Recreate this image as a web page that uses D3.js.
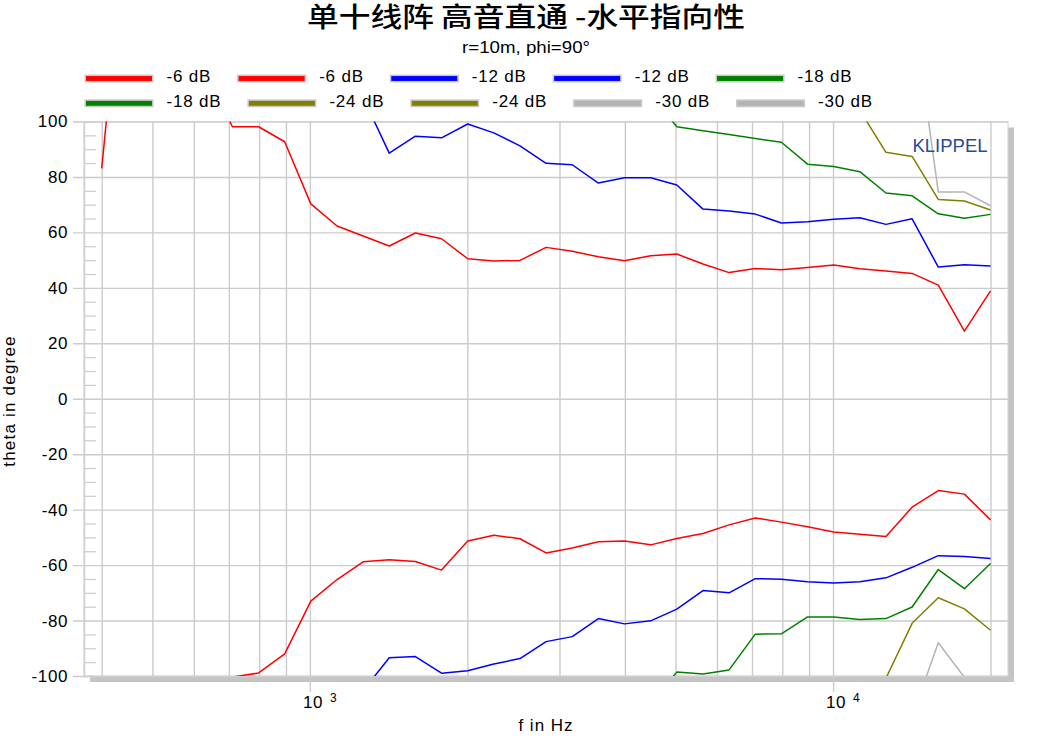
<!DOCTYPE html>
<html>
<head>
<meta charset="utf-8">
<script src="https://cdn.jsdelivr.net/npm/d3@7"></script>
<style>
  html, body { margin: 0; padding: 0; background: #fff; }
  svg { display: block; }
  .lab { font-family: "Liberation Sans", Arial, sans-serif; fill: #000; }
</style>
</head>
<body>
<svg id="chart" width="1053" height="745"></svg>
<script>
// ---------------- data ----------------
const titleText = "单十线阵 高音直通 -水平指向性";
const subtitleText = "r=10m, phi=90°";
const xLabel = "f in Hz";
const yLabel = "theta in degree";
const brand = "KLIPPEL";

const freqs = [400, 449, 504, 565, 634, 711, 798, 895, 1004, 1127, 1264, 1418, 1591, 1785,
  2003, 2247, 2521, 2828, 3173, 3560, 3994, 4482, 5028, 5642, 6329, 7101, 7967, 8939,
  10029, 11252, 12624, 14164, 15892, 17829, 20000];

const seriesNames = ["-6 dB", "-6 dB", "-12 dB", "-12 dB", "-18 dB", "-18 dB", "-24 dB", "-24 dB", "-30 dB", "-30 dB"];

const m6Upper = [83.1, 180, null, null, 118, 98.1, 98.1, 92.7, 70.3, 62.3, 58.7, 55.1, 59.8, 57.7,
  50.5, 49.7, 49.9, 54.6, 53.2, 51.2, 49.8, 51.6, 52.2, 48.6, 45.5, 47.0, 46.5, 47.3,
  48.2, 46.9, 46.1, 45.2, 41.0, 24.4, 38.9];
const m6Lower = [null, null, null, null, -115, -100.4, -98.9, -92.0, -73.0, -65.2, -58.8, -58.1, -58.7, -61.8,
  -51.3, -49.2, -50.5, -55.6, -53.8, -51.6, -51.3, -52.7, -50.4, -48.6, -45.5, -43.0, -44.5, -46.2,
  -48.1, -48.9, -49.7, -39.1, -33.1, -34.4, -43.7];
const m12Upper = [null, null, null, null, null, null, null, null, null, 125, 108.6, 88.6, 94.7, 94.1,
  99.1, 95.9, 91.2, 84.9, 84.4, 77.8, 79.7, 79.7, 77.1, 68.4, 67.7, 66.6, 63.4, 63.8,
  64.7, 65.3, 62.9, 64.9, 47.5, 48.3, 47.9];
const m12Lower = [null, null, null, null, null, null, null, null, null, -125, -105.3, -93.4, -93.0, -99.0,
  -98.1, -95.7, -93.7, -87.6, -85.8, -79.3, -81.2, -80.1, -75.9, -69.2, -70.0, -64.9, -65.1, -66.0,
  -66.5, -66.0, -64.6, -60.8, -56.6, -56.9, -57.6];
const m18Upper = [null, null, null, null, null, null, null, null, null, null, null, null, null, null,
  null, null, null, null, null, null, 125, 110, 98.1, 96.7, 95.3, 93.9, 92.5, 84.6,
  83.8, 81.9, 74.2, 73.2, 66.7, 65.1, 66.5];
const m18Lower = [null, null, null, null, null, null, null, null, null, null, null, null, null, null,
  null, null, null, null, null, null, -125, -110, -98.6, -99.3, -97.8, -84.9, -84.8, -78.7,
  -78.7, -79.6, -79.3, -75.1, -61.6, -68.5, -59.4];
const m24Upper = [null, null, null, null, null, null, null, null, null, null, null, null, null, null,
  null, null, null, null, null, null, null, null, null, null, null, null, null, null,
  125, 104, 88.9, 87.4, 71.9, 71.3, 68.1];
const m24Lower = [null, null, null, null, null, null, null, null, null, null, null, null, null, null,
  null, null, null, null, null, null, null, null, null, null, null, null, null, null,
  -125, -115, -100.8, -81.0, -71.8, -75.8, -83.5];
const m30Upper = [null, null, null, null, null, null, null, null, null, null, null, null, null, null,
  null, null, null, null, null, null, null, null, null, null, null, null, null, null,
  null, null, 160, 143, 74.6, 74.6, 69.6];
const m30Lower = [null, null, null, null, null, null, null, null, null, null, null, null, null, null,
  null, null, null, null, null, null, null, null, null, null, null, null, null, null,
  null, null, -160, -114.7, -88.0, -100.5, -120];

const seriesValues = [m6Upper, m6Lower, m12Upper, m12Lower, m18Upper, m18Lower, m24Upper, m24Lower, m30Upper, m30Lower];

const yMajorTicks = [-100, -80, -60, -40, -20, 0, 20, 40, 60, 80, 100];
const yMinorTicks = [-95, -90, -85, -75, -70, -65, -55, -50, -45, -35, -30, -25, -15, -10, -5,
  5, 10, 15, 25, 30, 35, 45, 50, 55, 65, 70, 75, 85, 90, 95];
const xGridTicks = [400, 500, 600, 700, 800, 900, 1000, 2000, 3000, 4000, 5000, 6000, 7000, 8000, 9000, 10000, 20000];
const xDecadeTicks = [1000, 10000];
const xDecadeLabels = [["10", "3"], ["10", "4"]];

// ---------------- styles ----------------
const colorMap = {"-6 dB": "#ff0000", "-12 dB": "#0000ff", "-18 dB": "#008000", "-24 dB": "#808000", "-30 dB": "#b4b4b4"};
const gridColor = "#cbcbcb";

// ---------------- layout ----------------
const svg = d3.select("#chart");
const P = {left: 84, right: 1008, top: 121.5, bottom: 676};
const PW = P.right - P.left, PH = P.bottom - P.top;

const x = d3.scaleLog().domain([370, 21600]).range([P.left, P.right]);
const y = d3.scaleLinear().domain([-100, 100]).range([P.bottom, P.top]);

// title
svg.append("text").attr("x", 526).attr("y", 26.5)
  .attr("text-anchor", "middle")
  .attr("textLength", 438).attr("lengthAdjust", "spacingAndGlyphs")
  .style("font-family", "'Noto Sans CJK SC', sans-serif")
  .style("font-size", "27px").style("font-weight", 500)
  .text(titleText);

svg.append("text").attr("class", "lab").attr("x", 526).attr("y", 53)
  .attr("text-anchor", "middle")
  .attr("textLength", 128).attr("lengthAdjust", "spacingAndGlyphs")
  .style("font-size", "16px")
  .text(subtitleText);

// legend
const legend = svg.append("g");
let lx = 84.5, row = 0;
seriesNames.forEach((name, i) => {
  if (i > 0 && i % 5 === 0) { row++; lx = 84.5; }
  const cy = 78.5 + row * 24.8;
  legend.append("rect").attr("x", lx + 0.75).attr("y", cy - 3.2).attr("width", 67.5).attr("height", 6.4)
    .attr("fill", colorMap[name]).attr("stroke", "#c8c8c8").attr("stroke-width", 1.5);
  const t = legend.append("text").attr("class", "lab").attr("x", lx + 82).attr("y", cy + 3.7)
    .style("font-size", "17px").style("letter-spacing", "0.8px").text(name);
  const tw = t.node().getComputedTextLength();
  lx = lx + 82 + tw + 26;
});

// plot frame with shadow
svg.append("rect").attr("x", P.left + 6).attr("y", P.top + 6).attr("width", PW).attr("height", PH)
  .attr("fill", "#c4c4c4");
svg.append("rect").attr("x", P.left).attr("y", P.top).attr("width", PW).attr("height", PH)
  .attr("fill", "#fff");

// vertical gridlines
const gx = svg.append("g").attr("transform", `translate(0,${P.top})`)
  .call(d3.axisBottom(x).tickValues(xGridTicks).tickSize(PH).tickFormat(""));
gx.select(".domain").remove();
gx.selectAll("line").attr("stroke", gridColor).attr("stroke-width", 1.4);

// decade ticks extending below
const gxd = svg.append("g").attr("transform", `translate(0,${P.bottom})`)
  .call(d3.axisBottom(x).tickValues(xDecadeTicks).tickSize(16).tickFormat(""));
gxd.select(".domain").remove();
gxd.selectAll("line").attr("stroke", gridColor).attr("stroke-width", 1.4);

// horizontal gridlines
const gy = svg.append("g").attr("transform", `translate(${P.right},0)`)
  .call(d3.axisLeft(y).tickValues(yMajorTicks).tickSize(PW + 11).tickFormat(""));
gy.select(".domain").remove();
gy.selectAll("line").attr("stroke", gridColor).attr("stroke-width", 1.4);

// y tick labels
const gyl = svg.append("g").attr("transform", `translate(${P.left - 11},0)`)
  .call(d3.axisLeft(y).tickValues(yMajorTicks).tickSize(0).tickPadding(5).tickFormat(d => String(d)));
gyl.select(".domain").remove();
gyl.selectAll("text").attr("class", "lab").attr("fill", "#000")
  .style("font-family", "'Liberation Sans', Arial, sans-serif")
  .style("font-size", "17px").style("letter-spacing", "0.6px");

// minor ticks
const gym = svg.append("g").attr("transform", `translate(${P.left},0)`)
  .call(d3.axisRight(y).tickValues(yMinorTicks).tickSize(12).tickFormat(""));
gym.select(".domain").attr("stroke", gridColor).attr("stroke-width", 1.4);
gym.selectAll("line").attr("stroke", gridColor).attr("stroke-width", 1.2);

// top/right frame line
svg.append("rect").attr("x", P.left).attr("y", P.top).attr("width", PW).attr("height", PH)
  .attr("fill", "none").attr("stroke", "#d2d2d2").attr("stroke-width", 1);

// x decade labels
xDecadeTicks.forEach((f, i) => {
  const t = svg.append("text").attr("class", "lab").attr("x", x(f) - 7).attr("y", 708)
    .style("font-size", "17px").style("letter-spacing", "0.6px");
  t.append("tspan").text(xDecadeLabels[i][0]);
  t.append("tspan").attr("x", x(f) + 20).attr("y", 702).style("font-size", "12px").text(xDecadeLabels[i][1]);
});

// axis titles
svg.append("text").attr("class", "lab").attr("x", 546).attr("y", 731)
  .attr("text-anchor", "middle").style("font-size", "17px").style("letter-spacing", "1px")
  .text(xLabel);
svg.append("text").attr("class", "lab")
  .attr("transform", "translate(15,401) rotate(-90)")
  .attr("text-anchor", "middle").style("font-size", "17px").style("letter-spacing", "1.2px")
  .text(yLabel);

// clip
svg.append("clipPath").attr("id", "plotclip").append("rect")
  .attr("x", P.left).attr("y", P.top).attr("width", PW).attr("height", PH);

const line = d3.line()
  .defined(d => d.v !== null)
  .x(d => x(d.f)).y(d => y(d.v));

const lines = svg.append("g").attr("clip-path", "url(#plotclip)");
seriesValues.forEach((vals, i) => {
  const pts = freqs.map((f, j) => ({f: f, v: vals[j]}));
  lines.append("path").datum(pts)
    .attr("fill", "none")
    .attr("stroke", colorMap[seriesNames[i]])
    .attr("stroke-width", 1.5)
    .attr("stroke-linejoin", "round")
    .attr("d", line);
});

// brand
svg.append("text").attr("class", "lab").attr("x", 912.5).attr("y", 151.5)
  .attr("textLength", 75).attr("lengthAdjust", "spacingAndGlyphs")
  .style("font-size", "18.5px").style("fill", "#2b4a98")
  .text(brand);
</script>
</body>
</html>
